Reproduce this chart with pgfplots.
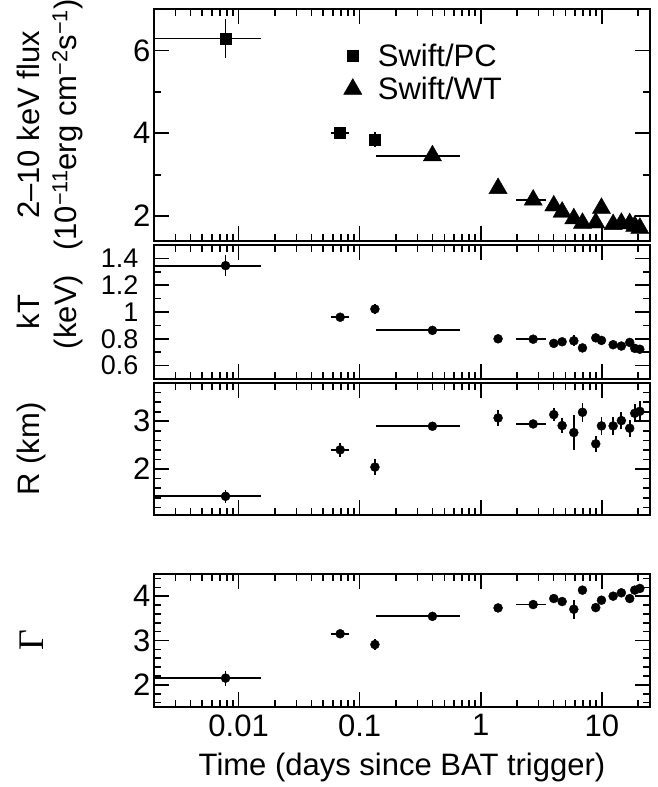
\documentclass[border=0pt]{standalone}
\usepackage{fontspec}
\setmainfont{Liberation Sans}
\newfontfamily\serifgr{Liberation Serif}
\usepackage{pgfplots}
\usepackage{pgfplotstable}
\pgfplotsset{compat=1.18}

\newcommand\fsz{\fontsize{31}{37}\selectfont}

% columns: time, value, time err -, time err +, value err -, value err +
\pgfplotstableread{
t v tm tp vm vp
0.0078 6.29 0.0063 0.0074 0.47 0.47
0.069 4.01 0.0115 0.0127 0.06 0.06
0.1336 3.85 0 0 0.18 0.18
}\fluxPC

\pgfplotstableread{
t v tm tp vm vp
0.399 3.46 0.262 0.271 0 0
1.39 2.67 0 0 0 0
2.71 2.39 0.74 0.78 0 0
4.01 2.25 0 0 0 0
4.70 2.10 0 0 0 0
5.87 1.94 0 0 0 0
6.92 1.83 0 0 0 0
8.91 1.84 0 0 0 0
9.93 2.19 0 0 0 0
12.4 1.80 0 0 0 0
14.5 1.83 0 0 0 0
17.0 1.82 0 0 0 0
18.7 1.76 0 0 0 0
20.6 1.71 0 0 0 0
}\fluxWT

\pgfplotstableread{
t v tm tp vm vp
0.0078 1.346 0.0063 0.0074 0.08 0.08
0.069 0.961 0.0115 0.0127 0.02 0.02
0.1336 1.022 0 0 0.04 0.04
0.399 0.863 0.262 0.271 0 0
1.39 0.800 0 0 0 0
2.71 0.797 0.74 0.78 0 0
4.01 0.766 0 0 0 0
4.70 0.778 0 0 0 0
5.87 0.785 0 0 0.04 0.04
6.92 0.732 0 0 0 0
8.91 0.807 0 0 0 0
9.93 0.788 0 0 0 0
12.4 0.756 0 0 0 0
14.5 0.746 0 0 0 0
17.0 0.773 0 0 0 0
18.7 0.729 0 0 0 0
20.6 0.722 0 0 0 0
}\kT

\pgfplotstableread{
t v tm tp vm vp
0.0078 1.431 0.0063 0.0074 0.14 0.14
0.069 2.403 0.0115 0.0127 0.15 0.15
0.1336 2.042 0 0 0.17 0.17
0.399 2.896 0.262 0.271 0 0
1.39 3.069 0 0 0.16 0.16
2.71 2.944 0.74 0.78 0.08 0.08
4.01 3.139 0 0 0.14 0.14
4.70 2.910 0 0 0.15 0.15
5.87 2.764 0 0 0.36 0.36
6.92 3.188 0 0 0.20 0.20
8.91 2.528 0 0 0.17 0.17
9.93 2.903 0 0 0.19 0.19
12.4 2.903 0 0 0.18 0.18
14.5 3.014 0 0 0.18 0.18
17.0 2.854 0 0 0.18 0.18
18.7 3.167 0 0 0.19 0.19
20.6 3.208 0 0 0.22 0.22
}\rad

\pgfplotstableread{
t v tm tp vm vp
0.0078 2.152 0.0063 0.0074 0.17 0.17
0.069 3.152 0.0115 0.0127 0.05 0.05
0.1336 2.909 0 0 0.12 0.12
0.399 3.545 0.262 0.271 0 0
1.39 3.735 0 0 0 0
2.71 3.811 0.74 0.78 0 0
4.01 3.947 0 0 0 0
4.70 3.879 0 0 0 0
5.87 3.705 0 0 0.22 0.22
6.92 4.136 0 0 0 0
8.91 3.742 0 0 0 0
9.93 3.909 0 0 0.05 0.05
12.4 4.000 0 0 0 0
14.5 4.076 0 0 0 0
17.0 3.947 0 0 0 0
18.7 4.136 0 0 0 0
20.6 4.174 0 0 0 0
}\gam

\pgfplotsset{
  every axis/.append style={
    scale only axis, width=496pt, anchor=south west,
    xmode=log, xmin=0.002, xmax=25,
    xtick={0.01,0.1,1,10},
    minor xtick={0.002,0.003,0.004,0.005,0.006,0.007,0.008,0.009,
      0.02,0.03,0.04,0.05,0.06,0.07,0.08,0.09,
      0.2,0.3,0.4,0.5,0.6,0.7,0.8,0.9,
      2,3,4,5,6,7,8,9,20},
    xtick pos=both, ytick pos=both, yticklabel pos=left,
    tick align=inside,
    major tick length=15pt, minor tick length=7pt,
    tick style={black, line width=1.6pt},
    axis line style={line width=2.2pt},
    tick label style={font=\fsz},
    label style={font=\fsz},
  },
  every axis plot/.append style={only marks, black, mark options={fill=black, draw=black},
    error bars/x dir=both, error bars/x explicit,
    error bars/y dir=both, error bars/y explicit,
    error bars/error mark=none, error bars/error bar style={line width=1.8pt}},
}

\begin{document}
\begin{tikzpicture}
\useasboundingbox (0pt,0pt) rectangle (658pt,-787pt);

% flux
\begin{axis}[at={(154pt,-241pt)}, height=232pt, xticklabels={},
  ymin=1.4, ymax=7, ytick={2,4,6}, yticklabels={2,4,6}, minor ytick={3,5,7},
  ylabel={2–10 keV flux\\(10\textsuperscript{−11}erg cm\textsuperscript{−2}s\textsuperscript{−1})},
  ylabel style={at={(axis description cs:-0.2097,0.5)}, anchor=center, align=center},
  legend style={at={(0.376,0.871)}, anchor=north west, draw=none, fill=none,
    font=\fsz, nodes={inner sep=3pt}, row sep=3pt, column sep=13pt},
  legend cell align=left,
]
\addplot[mark=square*, mark size=5.5pt] table[x=t, y=v, x error minus=tm, x error plus=tp, y error minus=vm, y error plus=vp] {\fluxPC};
\addplot[mark=triangle*, mark size=10.5pt] table[x=t, y=v, x error minus=tm, x error plus=tp, y error minus=vm, y error plus=vp] {\fluxWT};
\legend{Swift/PC, Swift/WT}
\end{axis}

% kT
\begin{axis}[at={(154pt,-379pt)}, height=134pt, xticklabels={},
  ymin=0.5, ymax=1.5, ytick={0.6,0.8,1,1.2,1.4}, yticklabels={0.6,0.8,1,1.2,1.4},
  minor ytick={0.7,0.9,1.1,1.3},
  yticklabel style={xshift=-12pt, inner ysep=0pt, font=\fontsize{27}{30}\selectfont},
  ylabel={kT\\(keV)},
  ylabel style={at={(axis description cs:-0.2097,0.5)}, anchor=center, align=center},
]
\addplot[mark=*, mark size=4.5pt] table[x=t, y=v, x error minus=tm, x error plus=tp, y error minus=vm, y error plus=vp] {\kT};
\end{axis}

% radius
\begin{axis}[at={(154pt,-515pt)}, height=132pt, xticklabels={},
  ymin=1.04, ymax=3.8, ytick={2,3}, yticklabels={2,3},
  minor ytick={1.2,1.4,1.6,1.8,2.2,2.4,2.6,2.8,3.2,3.4,3.6},
  ylabel={R (km)},
  ylabel style={at={(axis description cs:-0.246,0.5)}, anchor=center},
]
\addplot[mark=*, mark size=4.5pt] table[x=t, y=v, x error minus=tm, x error plus=tp, y error minus=vm, y error plus=vp] {\rad};
\end{axis}

% photon index
\begin{axis}[at={(154pt,-707pt)}, height=133pt,
  ymin=1.5, ymax=4.5, ytick={2,3,4}, yticklabels={2,3,4},
  minor ytick={1.6,1.8,2.2,2.4,2.6,2.8,3.2,3.4,3.6,3.8,4.2,4.4},
  xticklabels={0.01,0.1,1,10},
  xticklabel style={yshift=-4pt},
  xlabel={Time (days since BAT trigger)},
  xlabel style={yshift=-10pt},
  ylabel={{\serifgr\fontsize{36}{40}\selectfont Γ}},
  ylabel style={at={(axis description cs:-0.246,0.5)}, anchor=center},
]
\addplot[mark=*, mark size=4.5pt] table[x=t, y=v, x error minus=tm, x error plus=tp, y error minus=vm, y error plus=vp] {\gam};
\end{axis}
\end{tikzpicture}
\end{document}
